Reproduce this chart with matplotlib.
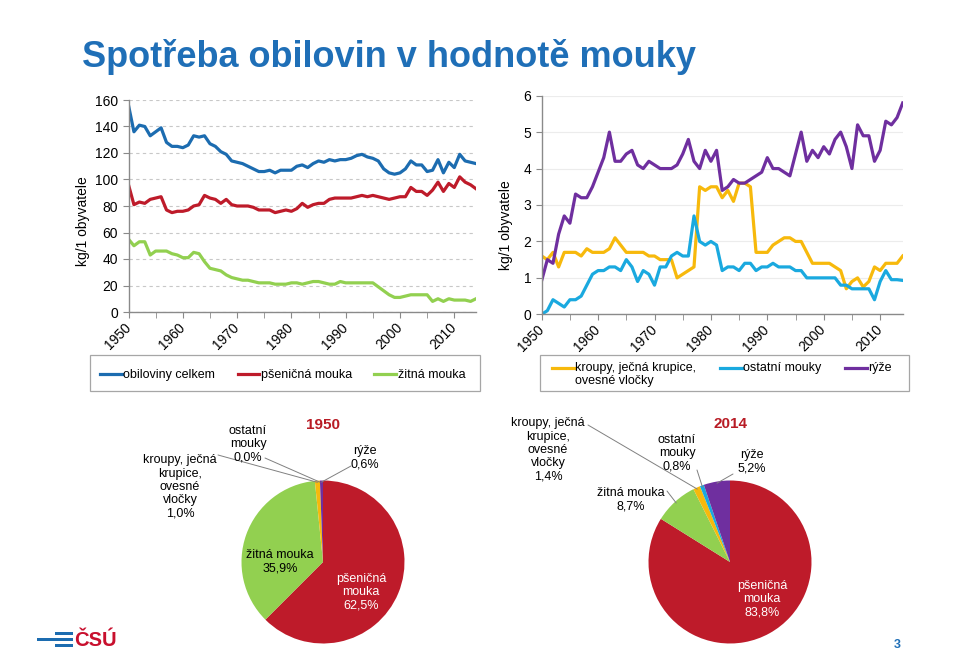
import matplotlib.pyplot as plt
import numpy as np
from matplotlib.patches import Rectangle
from matplotlib.ticker import MultipleLocator

plt.rcParams['font.family'] = ['Liberation Sans', 'DejaVu Sans']

W, H = 959, 652

years = np.arange(1950, 2015)

# kg / 1 obyvatele
obiloviny = [156, 136, 141, 140, 133, 136, 139, 128, 125, 125,
             124, 126, 133, 132, 133, 127, 125, 121, 119, 114,
             113, 112, 110, 108, 106, 106, 107, 105, 107, 107,
             107, 110, 111, 109, 112, 114, 113, 115, 114, 115,
             115, 116, 118, 119, 117, 116, 114, 108, 105, 104,
             105, 108, 114, 111, 111, 106, 107, 115, 105, 113,
             109, 119, 114, 113, 112]
psenicna = [96, 81, 83, 82, 85, 86, 87, 77, 75, 76,
            76, 77, 80, 81, 88, 86, 85, 82, 85, 81,
            80, 80, 80, 79, 77, 77, 77, 75, 76, 77,
            76, 78, 82, 79, 81, 82, 82, 85, 86, 86,
            86, 86, 87, 88, 87, 88, 87, 86, 85, 86,
            87, 87, 94, 91, 91, 88, 92, 98, 91, 97,
            94, 102, 98, 96, 93]
zitna = [55, 50, 53, 53, 43, 46, 46, 46, 44, 43,
         41, 41, 45, 44, 38, 33, 32, 31, 28, 26,
         25, 24, 24, 23, 22, 22, 22, 21, 21, 21,
         22, 22, 21, 22, 23, 23, 22, 21, 21, 23,
         22, 22, 22, 22, 22, 22, 19, 16, 13, 11,
         11, 12, 13, 13, 13, 13, 8, 10, 8, 10,
         9, 9, 9, 8, 10]

kroupy = [1.6, 1.5, 1.7, 1.3, 1.7, 1.7, 1.7, 1.6, 1.8, 1.7,
          1.7, 1.7, 1.8, 2.1, 1.9, 1.7, 1.7, 1.7, 1.7, 1.6,
          1.6, 1.5, 1.5, 1.5, 1.0, 1.1, 1.2, 1.3, 3.5, 3.4,
          3.5, 3.5, 3.2, 3.4, 3.1, 3.6, 3.6, 3.5, 1.7, 1.7,
          1.7, 1.9, 2.0, 2.1, 2.1, 2.0, 2.0, 1.7, 1.4, 1.4,
          1.4, 1.4, 1.3, 1.2, 0.7, 0.9, 1.0, 0.75, 0.9, 1.3,
          1.2, 1.4, 1.4, 1.4, 1.6]
ostatni = [0.0, 0.1, 0.4, 0.3, 0.2, 0.4, 0.4, 0.5, 0.8, 1.1,
           1.2, 1.2, 1.3, 1.3, 1.2, 1.5, 1.3, 0.9, 1.2, 1.1,
           0.8, 1.3, 1.3, 1.6, 1.7, 1.6, 1.6, 2.7, 2.0, 1.9,
           2.0, 1.9, 1.2, 1.3, 1.3, 1.2, 1.4, 1.4, 1.2, 1.3,
           1.3, 1.4, 1.3, 1.3, 1.3, 1.2, 1.2, 1.0, 1.0, 1.0,
           1.0, 1.0, 1.0, 0.8, 0.8, 0.7, 0.7, 0.7, 0.7, 0.4,
           0.9, 1.2, 0.95, 0.95, 0.93]
ryze = [0.93, 1.5, 1.4, 2.2, 2.7, 2.5, 3.3, 3.2, 3.2, 3.5,
        3.9, 4.3, 5.0, 4.2, 4.2, 4.4, 4.5, 4.1, 4.0, 4.2,
        4.1, 4.0, 4.0, 4.0, 4.1, 4.4, 4.8, 4.2, 4.0, 4.5,
        4.2, 4.5, 3.4, 3.5, 3.7, 3.6, 3.6, 3.7, 3.8, 3.9,
        4.3, 4.0, 4.0, 3.9, 3.8, 4.4, 5.0, 4.2, 4.5, 4.3,
        4.6, 4.4, 4.8, 5.0, 4.6, 4.0, 5.2, 4.9, 4.9, 4.2,
        4.5, 5.3, 5.2, 5.4, 5.8]

# struktura v %
pie_names = ['pšeničná\nmouka', 'žitná mouka', 'kroupy, ječná\nkrupice,\novesné\nvločky',
             'ostatní\nmouky', 'rýže']
pie_1950 = [62.5, 35.9, 1.0, 0.0, 0.6]
pie_2014 = [83.8, 8.7, 1.4, 0.8, 5.2]

c_blue = '#1c6cb0'
c_red = '#be1b2a'
c_green = '#92d050'
c_yellow = '#f7b90c'
c_cyan = '#1aa9df'
c_purple = '#6f2f9f'
c_grey = '#8a8a8a'
pie_colors = [c_red, c_green, c_yellow, c_cyan, c_purple]


def box(x0, y0, x1, y1):
    return [x0 / W, 1 - y1 / H, (x1 - x0) / W, (y1 - y0) / H]


def fpx(x, y):
    return (x, H - y)


def ffrac(x, y):
    return (x / W, 1 - y / H)


def frame(x0, y0, x1, y1):
    fig.add_artist(Rectangle((x0 / W, 1 - y1 / H), (x1 - x0) / W, (y1 - y0) / H,
                             transform=fig.transFigure, facecolor='white',
                             edgecolor='#a6a6a6', lw=0.9, zorder=0))


fig = plt.figure(figsize=(W / 100, H / 100), dpi=100)

fig.text(82 / W, 1 - 57 / H, 'Spotřeba obilovin v hodnotě mouky', color='#1f6fb7',
         fontsize=26, fontweight='bold', ha='left', va='center')


def style_line_axes(ax, dashed):
    for s in ['top', 'right']:
        ax.spines[s].set_visible(False)
    for s in ['left', 'bottom']:
        ax.spines[s].set_color(c_grey)
        ax.spines[s].set_linewidth(1.0)
    ax.set_xlim(1950, 2014)
    ax.xaxis.set_major_locator(MultipleLocator(10))
    ax.xaxis.set_minor_locator(MultipleLocator(5))
    ax.tick_params(axis='both', which='both', direction='out', color=c_grey,
                   length=4, labelsize=10, labelcolor='black')
    ax.tick_params(axis='x', which='major', pad=5.4, labelrotation=45)
    plt.setp(ax.get_xticklabels(), ha='right', va='center', rotation_mode='anchor')
    if dashed:
        ax.grid(axis='y', color='#c8c8c8', linestyle=(0, (3, 3)), linewidth=0.8)
    else:
        ax.grid(axis='y', color='#ececec', linestyle='-', linewidth=0.8)
    ax.set_axisbelow(True)


# legend frames
frame(90, 355, 480, 391)
frame(540, 355, 909, 391)

# left line chart
ax1 = fig.add_axes(box(128.5, 100, 476, 312))
l1, = ax1.plot(years, obiloviny, color=c_blue, lw=2.3, label='obiloviny celkem')
l2, = ax1.plot(years, psenicna, color=c_red, lw=2.3, label='pšeničná mouka')
l3, = ax1.plot(years, zitna, color=c_green, lw=2.3, label='žitná mouka')
ax1.set_ylim(0, 160)
ax1.yaxis.set_major_locator(MultipleLocator(20))
style_line_axes(ax1, True)
ax1.set_ylabel('kg/1 obyvatele', fontsize=10)
ax1.yaxis.set_label_coords(-0.111, 0.43)
fig.legend(handles=[l1, l2, l3], loc='center left', bbox_to_anchor=ffrac(100, 375),
           ncol=3, fontsize=9, frameon=False,
           handlelength=1.75, handletextpad=0.1, borderaxespad=0, borderpad=0,
           columnspacing=1.8)

# right line chart
ax2 = fig.add_axes(box(541.7, 95.7, 902.7, 314.3))
l4, = ax2.plot(years, kroupy, color=c_yellow, lw=2.3, label='kroupy, ječná krupice,\novesné vločky')
l5, = ax2.plot(years, ostatni, color=c_cyan, lw=2.3, label='ostatní mouky\n')
l6, = ax2.plot(years, ryze, color=c_purple, lw=2.3, label='rýže\n')
ax2.set_ylim(0, 6)
ax2.yaxis.set_major_locator(MultipleLocator(1))
style_line_axes(ax2, False)
ax2.set_ylabel('kg/1 obyvatele', fontsize=10)
ax2.yaxis.set_label_coords(-0.08, 0.41)
leg2 = fig.legend(handles=[l4, l5, l6], loc='center left', bbox_to_anchor=ffrac(552, 374.5),
                  ncol=3, fontsize=9, frameon=False,
                  handlelength=1.75, handletextpad=0.1, borderaxespad=0, borderpad=0,
                  columnspacing=1.9)
for ln in leg2.get_lines():
    ln.set_ydata(np.asarray(ln.get_ydata()) + 5.0)

# pies
pie_specs = [
    (pie_1950, '1950', (323, 562), (323, 425),
     [(361, 592), (280, 562), (180, 487), (248, 444), (365, 458)],
     [None, None, (218, 455), (265, 458), (351, 466)]),
    (pie_2014, '2014', (730, 562), (731, 424),
     [(762, 599), (631, 500), (548, 450), (677, 453), (752, 462)],
     [None, (667, 491), (588, 425), (697, 470), (733, 474)]),
]
R = 81.5
for vals, year_lbl, (cx, cy), tpos, lpos, lines in pie_specs:
    ax = fig.add_axes(box(cx - R, cy - R, cx + R, cy + R))
    wedges, _ = ax.pie(vals, colors=pie_colors, startangle=90, counterclock=False,
                       wedgeprops=dict(linewidth=0))
    ax.set_xlim(-1, 1)
    ax.set_ylim(-1, 1)
    ax.set_aspect('equal')
    fig.text(tpos[0] / W, 1 - tpos[1] / H, year_lbl, color='#b81c25', fontsize=11,
             fontweight='bold', ha='center', va='center')
    for i, (w, name, v) in enumerate(zip(wedges, pie_names, vals)):
        txt = name + '\n' + f'{v:.1f}%'.replace('.', ',')
        fig.text(lpos[i][0] / W, 1 - lpos[i][1] / H, txt, fontsize=9, ha='center', va='center',
                 color='white' if i == 0 else 'black', linespacing=1.15)
        if lines[i] is not None:
            ang = np.deg2rad((w.theta1 + w.theta2) / 2)
            ax.annotate('', xy=(np.cos(ang) * 0.98, np.sin(ang) * 0.98), xycoords='data',
                        xytext=fpx(*lines[i]), textcoords='figure pixels',
                        arrowprops=dict(arrowstyle='-', color='#808080', lw=0.7,
                                        shrinkA=0, shrinkB=0))

# logo + page number
fig.add_artist(Rectangle((55 / W, 1 - 635 / H), 18 / W, 3 / H, transform=fig.transFigure,
                         color=c_blue, lw=0))
fig.add_artist(Rectangle((37 / W, 1 - 641 / H), 36 / W, 3 / H, transform=fig.transFigure,
                         color=c_blue, lw=0))
fig.add_artist(Rectangle((55 / W, 1 - 647 / H), 18 / W, 3 / H, transform=fig.transFigure,
                         color=c_blue, lw=0))
fig.text(74 / W, 1 - 640 / H, 'ČSÚ', color='#c8102e', fontsize=14.5, fontweight='bold',
         ha='left', va='center')
fig.text(897 / W, 1 - 645 / H, '3', color='#1f6fb7', fontsize=9, fontweight='bold',
         ha='center', va='center')

fig.savefig('out.png', dpi=100)
